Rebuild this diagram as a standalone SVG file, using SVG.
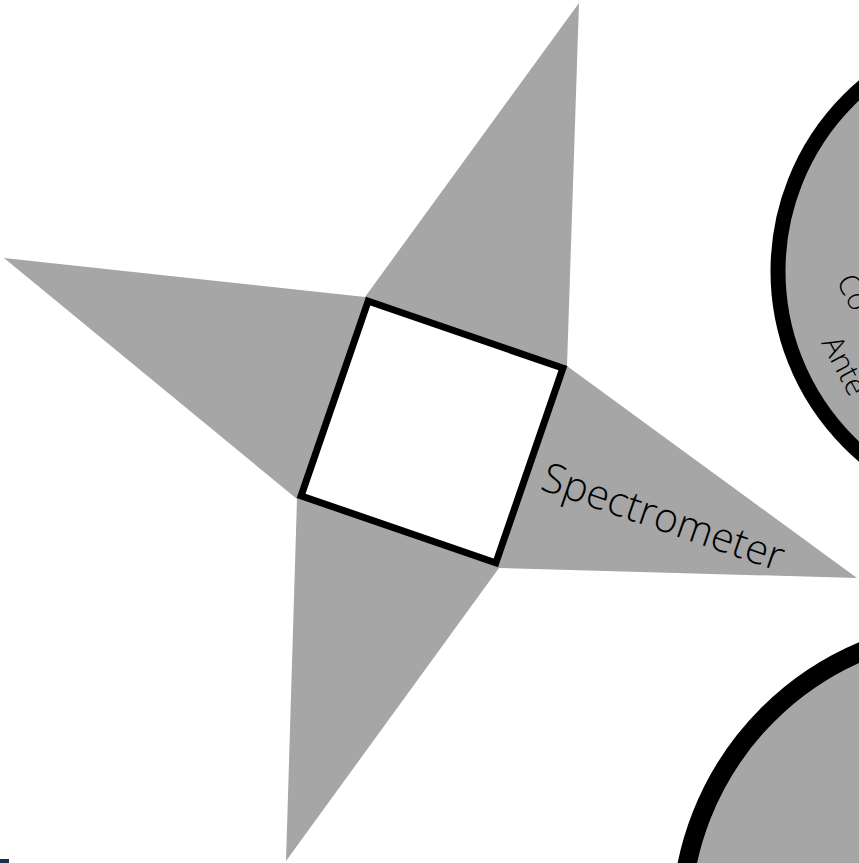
<svg xmlns="http://www.w3.org/2000/svg" width="859" height="863" viewBox="0 0 859 863">
  <style>
    .gray { fill: #a6a6a6; }
    .ring { fill: #a6a6a6; stroke: #000; }
    .lbl { font-family: "Open Sans", "Liberation Sans", sans-serif; font-weight: 300; fill: #000; }
  </style>
  <rect width="859" height="863" fill="#fff"/>
  <g id="star">
    <polygon class="gray" points="579,3 567,366 857,578 499,568 286,861 297,499 4,258 365,297"/>
  </g>
  <g id="square">
    <rect x="-103" y="-103" width="206" height="206" fill="#fff" stroke="#000" stroke-width="7" transform="translate(432,432) rotate(19)"/>
  </g>
  <g id="spectrometer-label">
    <text class="lbl" font-size="41" transform="translate(539,489) rotate(19)">Spectrometer</text>
  </g>
  <g id="circle-top">
    <circle class="ring" cx="1020" cy="271" r="242" stroke-width="15"/>
    <text class="lbl" font-size="30" transform="translate(836,281) rotate(62)">Co</text>
    <text class="lbl" font-size="30" transform="translate(821,343) rotate(62)">Ante</text>
  </g>
  <g id="circle-bottom">
    <circle class="ring" cx="977" cy="924" r="296" stroke-width="19"/>
  </g>
  <g id="connectors"></g>
  <rect x="0" y="859" width="9" height="4" fill="#1e2f48"/>
</svg>
